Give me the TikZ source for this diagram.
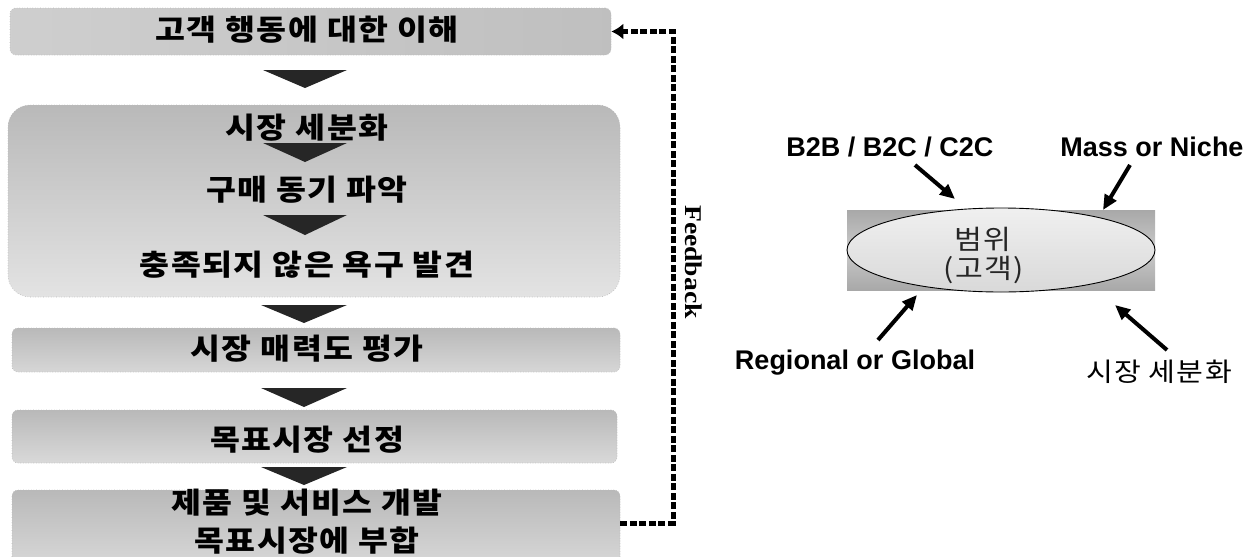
\documentclass[tikz,border=0pt]{standalone}
\usepackage{fontspec}
\setmainfont{Liberation Sans}
\newfontfamily\kr{Noto Sans CJK KR}[FakeStretch=1.12,LetterSpace=5]
\newfontfamily\fbfont{Liberation Serif}
\usetikzlibrary{arrows.meta,shapes.geometric}
\begin{document}
\begin{tikzpicture}[x=1pt,y=-1pt,
  box/.style={draw=gray!55,dotted,line width=0.6pt,rounded corners=6pt,inner sep=0pt},
  boxtext/.style={font=\kr\bfseries\fontsize{29}{32}\selectfont,text=black,inner sep=0pt},
  tri/.style={fill=black!85},
  fb/.style={line width=5pt,dash pattern=on 7pt off 2.5pt},
  lbl/.style={font=\bfseries\fontsize{27}{30}\selectfont,inner sep=0pt},
  arr/.style={line width=4pt,-{Triangle[length=15pt,width=13pt]}}
]
\useasboundingbox (0,0) rectangle (1259,557);
\clip (0,0) rectangle (1259,557);

% left boxes
\node[box,left color=gray!38,right color=gray!50,minimum width=601pt,minimum height=47pt] (box1) at (310.5,31.5) {};
\node[box,rounded corners=22pt,top color=gray!55,bottom color=gray!22,minimum width=612pt,minimum height=192pt] (box2) at (314,201) {};
\node[box,top color=gray!55,bottom color=gray!32,minimum width=608pt,minimum height=44pt] (box3) at (316,350) {};
\node[box,top color=gray!55,bottom color=gray!30,minimum width=605pt,minimum height=53pt] (box4) at (314.5,436.5) {};
\node[box,top color=gray!55,bottom color=gray!28,minimum width=608pt,minimum height=85pt] (box5) at (316,532.5) {};

\node[boxtext] (t1) at (307,30) {고객 행동에 대한 이해};
\node[boxtext] (t2a) at (307,128) {시장 세분화};
\node[boxtext] (t2b) at (307,190) {구매 동기 파악};
\node[boxtext] (t2c) at (307,265) {충족되지 않은 욕구 발견};
\node[boxtext] (t3) at (307,349) {시장 매력도 평가};
\node[boxtext] (t4) at (307,440) {목표시장 선정};
\node[boxtext] (t5a) at (307,503) {제품 및 서비스 개발};
\node[boxtext] (t5b) at (307,541) {목표시장에 부합};

% down triangles
\fill[tri] (263,70) -- (347,70) -- (305,88) -- cycle;
\fill[tri] (263,143) -- (347,143) -- (305,162) -- cycle;
\fill[tri] (263,215) -- (347,215) -- (305,235) -- cycle;
\fill[tri] (261,305) -- (347,305) -- (304,323) -- cycle;
\fill[tri] (261,388) -- (347,388) -- (304,407) -- cycle;
\fill[tri] (261,467) -- (347,467) -- (304,485) -- cycle;

% feedback loop
\coordinate (fbtop) at (673,31.5);
\draw[fb,-{Latex[length=12pt,width=16pt]}] ([yshift=9.5pt]box5.east) -| (fbtop) -- (box1.east);
\node[rotate=-90,font=\fbfont\bfseries\fontsize{24}{26}\selectfont,inner sep=0pt] (fbl) at (694,262) {\scalebox{1.15}[1]{Feedback}};

% right diagram
\node[draw=none,top color=gray!68,bottom color=gray!68,middle color=gray!42,minimum width=308pt,minimum height=80pt,inner sep=0pt] (rect) at (1001,250) {};
\node[ellipse,draw=black,line width=0.9pt,top color=gray!12,bottom color=gray!30,minimum width=308pt,minimum height=84pt,inner sep=0pt] (ell) at (1001,250) {};
\node[font=\kr\fontsize{27}{28}\selectfont,text=black!85,inner sep=0pt] (s1) at (983,239) {범위};
\node[font=\kr\fontsize{27}{28}\selectfont,text=black!85,inner sep=0pt] (s2) at (984,270) {(고객)};

\node[lbl] (lb1) at (890,147) {B2B / B2C / C2C};
\node[lbl] (lb2) at (1152,147) {Mass or Niche};
\node[lbl] (lb3) at (855,363) {Regional or Global};
\node[font=\kr\fontsize{26}{28}\selectfont,inner sep=0pt] (lb4) at (1159,372) {시장 세분화};

\coordinate (a1s) at (915,165); \coordinate (a1e) at (955,199);
\coordinate (a2s) at (1130,165); \coordinate (a2e) at (1103,210);
\coordinate (a3s) at (878,340); \coordinate (a3e) at (917,295);
\coordinate (a4s) at (1167,350); \coordinate (a4e) at (1115,305);
\draw[arr] (a1s) -- (a1e);
\draw[arr] (a2s) -- (a2e);
\draw[arr] (a3s) -- (a3e);
\draw[arr] (a4s) -- (a4e);
\end{tikzpicture}
\end{document}
